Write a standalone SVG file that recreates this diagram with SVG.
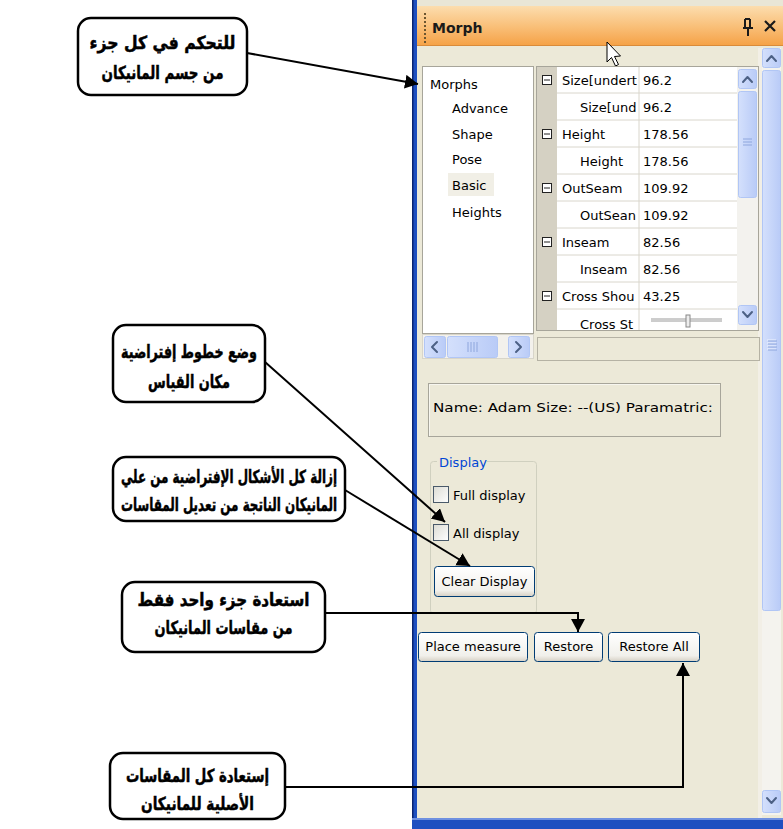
<svg xmlns="http://www.w3.org/2000/svg" width="783" height="829" viewBox="0 0 783 829">
<style>
.cb{fill:#fff;stroke:#000;stroke-width:2.5}
.ar{font-family:"DejaVu Sans",sans-serif;font-weight:bold;font-size:18px;text-anchor:middle;fill:#000;stroke:#000;stroke-width:0.5}
.ui{font-family:"DejaVu Sans",sans-serif;font-size:13px;fill:#000}
.conn{fill:none;stroke:#000;stroke-width:2}
.btn{fill:url(#btn);stroke:#003C74;stroke-width:1}
.chev{fill:none;stroke:#4D6185;stroke-width:2;stroke-linecap:round;stroke-linejoin:round}
.sbb{fill:url(#sbg);stroke:#B1C6F5;stroke-width:1}
.grip{stroke:#EEF3FE;stroke-width:1}
.grip2{stroke:#8EA6DD;stroke-width:1}
.mb{fill:#fff;stroke:#222;stroke-width:1}
.row{stroke:#D9D6CC;stroke-width:1}
.chk{fill:url(#chk);stroke:#4A5A6A;stroke-width:1}
</style>
<defs>
<linearGradient id="title" x1="0" y1="0" x2="0" y2="1">
<stop offset="0" stop-color="#FCDDAE"/><stop offset="0.5" stop-color="#F9C07A"/><stop offset="1" stop-color="#F5A145"/>
</linearGradient>
<linearGradient id="btn" x1="0" y1="0" x2="0" y2="1">
<stop offset="0" stop-color="#FFFFFF"/><stop offset="0.8" stop-color="#F1F0EB"/><stop offset="1" stop-color="#D6D0C4"/>
</linearGradient>
<linearGradient id="sbg" x1="0" y1="0" x2="1" y2="0">
<stop offset="0" stop-color="#D4E0FC"/><stop offset="1" stop-color="#B9CBF7"/>
</linearGradient>
<linearGradient id="chk" x1="0" y1="0" x2="1" y2="1">
<stop offset="0" stop-color="#DCDCD4"/><stop offset="1" stop-color="#FFFFFF"/>
</linearGradient>
<marker id="ah" markerUnits="userSpaceOnUse" markerWidth="16" markerHeight="16" refX="13" refY="7" orient="auto">
<path d="M0,0 L13,7 L0,14 z" fill="#000"/>
</marker>
<clipPath id="gclip"><rect x="537" y="67" width="200" height="263"/></clipPath>
</defs>

<rect x="0" y="0" width="783" height="829" fill="#fff"/>

<g id="panel">
<rect x="412" y="0" width="371" height="829" fill="#ECE9D8"/>
<rect x="412" y="0" width="371" height="6" fill="#E9E6D6"/>
<rect x="412" y="0" width="5" height="829" fill="#1E4FC0"/>
<rect x="412" y="0" width="1.5" height="829" fill="#0A2470"/>
<rect x="412" y="818" width="371" height="11" fill="#1E4FC0"/>
<rect x="412" y="818" width="371" height="2" fill="#6F90E0"/>
<g id="titlebar">
<rect x="417" y="6" width="366" height="40" fill="url(#title)"/>
<rect x="417" y="45" width="366" height="1" fill="#D98B3A"/>
<g fill="#6B5530">
<rect x="424" y="13" width="2" height="2"/><rect x="424" y="17" width="2" height="2"/><rect x="424" y="21" width="2" height="2"/><rect x="424" y="25" width="2" height="2"/><rect x="424" y="29" width="2" height="2"/><rect x="424" y="33" width="2" height="2"/><rect x="424" y="37" width="2" height="2"/><rect x="424" y="41" width="2" height="2"/>
</g>
<text x="432" y="33" font-family="DejaVu Sans,sans-serif" font-weight="bold" font-size="14" fill="#1A1A1A">Morph</text>
<g fill="none" stroke="#1A1A1A" stroke-width="2">
<path d="M745,19 V28 M750,19 V28 M743,28 H753 M748,28 V36 M745,19 H750"/>
<path d="M765,21 L775,31 M775,21 L765,31" stroke-width="2.2"/>
</g>
</g>
<path d="M607,42 L607,62 L611.5,57.5 L615.5,66 L618.5,64.5 L614.5,56.5 L620.5,56 Z" fill="#fff" stroke="#000" stroke-width="1"/>

<g id="vscroll">
<rect x="762" y="48" width="19" height="767" fill="#F4F3EE"/>
<rect x="758" y="48" width="4" height="770" fill="#F2EFE6"/>
<rect x="762.5" y="48.5" width="18" height="19" rx="2" class="sbb"/>
<path d="M767,61 L771.5,56 L776,61" class="chev"/>
<rect x="762.5" y="70.5" width="18" height="540" rx="2" class="sbb"/>
<path d="M767,340H776M767,343H776M767,346H776M767,349H776" class="grip"/>
<path d="M768,341H777M768,344H777M768,347H777M768,350H777" class="grip2"/>
<rect x="762.5" y="790.5" width="18" height="22" rx="2" class="sbb"/>
<path d="M767,798 L771.5,803 L776,798" class="chev"/>
</g>

<g id="tree">
<rect x="422.5" y="66.5" width="111" height="267" fill="#fff" stroke="#A7A59A"/>
<rect x="448" y="173" width="46" height="23" fill="#F1EFE6"/>
<text class="ui" x="430" y="89">Morphs</text>
<text class="ui" x="452" y="113">Advance</text>
<text class="ui" x="452" y="139">Shape</text>
<text class="ui" x="452" y="164">Pose</text>
<text class="ui" x="452" y="190">Basic</text>
<text class="ui" x="452" y="217">Heights</text>
</g>
<g id="hscroll">
<rect x="422.5" y="334.5" width="111" height="24" fill="#F3F1EC" stroke="#D8D5CA"/>
<rect x="424.5" y="336.5" width="21" height="21" rx="2" class="sbb"/>
<path d="M437,342 L432,347 L437,352" class="chev"/>
<rect x="447.5" y="336.5" width="50" height="21" rx="2" class="sbb"/>
<path d="M468,342V352M471,342V352M474,342V352M477,342V352" class="grip2"/>
<rect x="508.5" y="336.5" width="21" height="21" rx="2" class="sbb"/>
<path d="M516,342 L521,347 L516,352" class="chev"/>
</g>

<g id="grid">
<rect x="536.5" y="66.5" width="222" height="264" fill="#fff" stroke="#A7A59A"/>
<rect x="537" y="67" width="20" height="263" fill="#D5D1C3"/>
<g clip-path="url(#gclip)">
<path d="M557,93H737M557,120H737M557,147H737M557,174H737M557,201H737M557,228H737M557,255H737M557,282H737M557,309H737M639,67V330" class="row"/>
<rect x="542.5" y="75.5" width="9" height="9" class="mb"/><path d="M544,80H550" stroke="#222"/>
<rect x="542.5" y="129.5" width="9" height="9" class="mb"/><path d="M544,134H550" stroke="#222"/>
<rect x="542.5" y="183.5" width="9" height="9" class="mb"/><path d="M544,188H550" stroke="#222"/>
<rect x="542.5" y="237.5" width="9" height="9" class="mb"/><path d="M544,242H550" stroke="#222"/>
<rect x="542.5" y="291.5" width="9" height="9" class="mb"/><path d="M544,296H550" stroke="#222"/>
<text class="ui" x="562" y="85">Size[undert</text><text class="ui" x="643" y="85">96.2</text>
<text class="ui" x="580" y="112">Size[und</text><text class="ui" x="643" y="112">96.2</text>
<text class="ui" x="562" y="139">Height</text><text class="ui" x="643" y="139">178.56</text>
<text class="ui" x="580" y="166">Height</text><text class="ui" x="643" y="166">178.56</text>
<text class="ui" x="562" y="193">OutSeam</text><text class="ui" x="643" y="193">109.92</text>
<text class="ui" x="580" y="220">OutSean</text><text class="ui" x="643" y="220">109.92</text>
<text class="ui" x="562" y="247">Inseam</text><text class="ui" x="643" y="247">82.56</text>
<text class="ui" x="580" y="274">Inseam</text><text class="ui" x="643" y="274">82.56</text>
<text class="ui" x="562" y="301">Cross Shou</text><text class="ui" x="643" y="301">43.25</text>
<text class="ui" x="580" y="329">Cross St</text>
<path d="M651,319H722M651,321H722" stroke="#9A9A9A"/>
<rect x="686" y="315" width="4" height="12" fill="#EDEDED" stroke="#888"/>
</g>
<rect x="737" y="67" width="21" height="263" fill="#F3F2EE"/>
<rect x="738.5" y="69.5" width="18" height="19" rx="2" class="sbb"/>
<path d="M743,82 L747.5,77 L752,82" class="chev"/>
<rect x="738.5" y="91.5" width="18" height="106" rx="2" class="sbb"/>
<path d="M743,139H752M743,142H752M743,145H752" class="grip2"/>
<rect x="738.5" y="305.5" width="18" height="19" rx="2" class="sbb"/>
<path d="M743,312 L747.5,317 L752,312" class="chev"/>
</g>
<rect x="537.5" y="337.5" width="222" height="23" fill="#ECE9D8" stroke="#B5B2A4"/>

<g id="namebox">
<rect x="428.5" y="383.5" width="292" height="53" fill="#ECE9D8" stroke="#A7A59A"/>
<path d="M429.5,436V384.5H720" fill="none" stroke="#FFFFFF" stroke-opacity="0.6"/>
<text class="ui" x="433" y="412" textLength="280" lengthAdjust="spacingAndGlyphs">Name: Adam  Size: --(US)  Paramatric:</text>
</g>

<g id="display">
<rect x="430.5" y="461.5" width="106" height="152" rx="3" fill="none" stroke="#D0D0BF"/>
<rect x="437" y="454" width="50" height="15" fill="#ECE9D8"/>
<text class="ui" x="439" y="467" style="fill:#0046D5">Display</text>
<rect x="433.5" y="486.5" width="15" height="16" class="chk"/>
<text class="ui" x="453" y="500">Full display</text>
<rect x="433.5" y="524.5" width="15" height="16" class="chk"/>
<text class="ui" x="453" y="538">All display</text>
</g>
<g id="btn-clear">
<rect x="434.5" y="566.5" width="100" height="30" rx="3" class="btn"/>
<text class="ui" x="484.5" y="586" text-anchor="middle">Clear Display</text>
</g>
<g id="btn-place">
<rect x="418.5" y="632.5" width="109" height="29" rx="3" class="btn"/>
<text class="ui" x="473" y="651" text-anchor="middle">Place measure</text>
</g>
<g id="btn-restore">
<rect x="534.5" y="632.5" width="68" height="29" rx="3" class="btn"/>
<text class="ui" x="568.5" y="651" text-anchor="middle">Restore</text>
</g>
<g id="btn-restore-all">
<rect x="608.5" y="632.5" width="91" height="29" rx="3" class="btn"/>
<text class="ui" x="654" y="651" text-anchor="middle">Restore All</text>
</g>
</g>

<g id="callout-1">
<rect x="78" y="18" width="169" height="77" rx="13" class="cb"/>
<text class="ar" x="162.5" y="49" textLength="146" lengthAdjust="spacingAndGlyphs">للتحكم في كل جزء</text>
<text class="ar" x="162.5" y="79" textLength="122" lengthAdjust="spacingAndGlyphs">من جسم المانيكان</text>
</g>
<g id="callout-2">
<rect x="113" y="325" width="152" height="77" rx="13" class="cb"/>
<text class="ar" x="189" y="358" textLength="136" lengthAdjust="spacingAndGlyphs">وضع خطوط إفتراضية</text>
<text class="ar" x="189" y="388" textLength="82" lengthAdjust="spacingAndGlyphs">مكان القياس</text>
</g>
<g id="callout-3">
<rect x="113" y="457" width="232" height="64" rx="13" class="cb"/>
<text class="ar" x="229" y="483" textLength="216" lengthAdjust="spacingAndGlyphs">إزالة كل الأشكال الإفتراضية من علي</text>
<text class="ar" x="229" y="511" textLength="216" lengthAdjust="spacingAndGlyphs">المانيكان الناتجة من تعديل المقاسات</text>
</g>
<g id="callout-4">
<rect x="122" y="582" width="203" height="70" rx="13" class="cb"/>
<text class="ar" x="223.5" y="606" textLength="172" lengthAdjust="spacingAndGlyphs">استعادة جزء واحد فقط</text>
<text class="ar" x="223.5" y="634" textLength="138" lengthAdjust="spacingAndGlyphs">من مقاسات المانيكان</text>
</g>
<g id="callout-5">
<rect x="110" y="753" width="175" height="66" rx="13" class="cb"/>
<text class="ar" x="197.5" y="782" textLength="143" lengthAdjust="spacingAndGlyphs">إستعادة كل المقاسات</text>
<text class="ar" x="197.5" y="810" textLength="113" lengthAdjust="spacingAndGlyphs">الأصلية للمانيكان</text>
</g>

<g id="connectors">
<path d="M247,53 L418,84" class="conn" marker-end="url(#ah)"/>
<path d="M265,362 L445,522" class="conn" stroke-width="1.6" marker-end="url(#ah)"/>
<path d="M345,490 L470,566" class="conn" stroke-width="1.6" marker-end="url(#ah)"/>
<path d="M325,613 H578 V632" class="conn" marker-end="url(#ah)"/>
<path d="M285,787 H683 V663" class="conn" marker-end="url(#ah)"/>
</g>
</svg>
